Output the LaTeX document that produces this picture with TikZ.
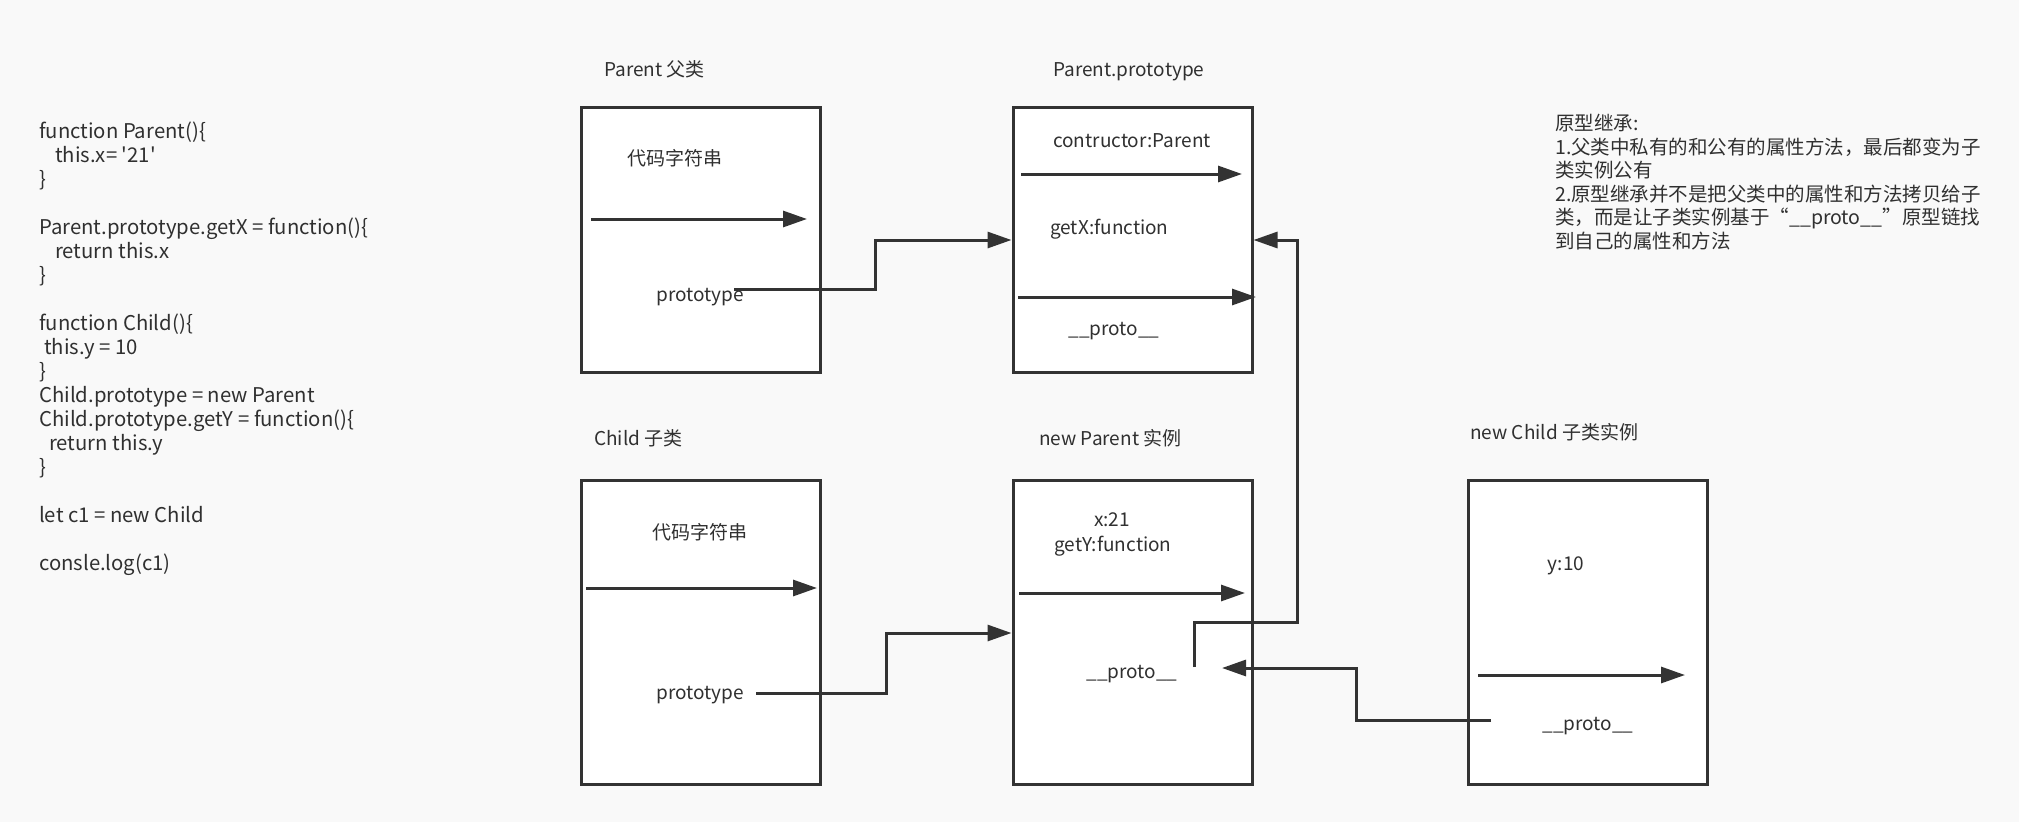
\documentclass[tikz,border=0pt]{standalone}
\usepackage{fontspec}
\setmainfont{Noto Sans CJK SC}[Ligatures=TeXOff]
\usetikzlibrary{arrows.meta}
\definecolor{bg}{HTML}{F9F9F9}
\definecolor{ln}{HTML}{333333}
\definecolor{tx}{HTML}{303030}
\tikzset{
  objbox/.style={draw=ln, line width=3pt, fill=white, inner sep=0pt},
  lbl/.style={text=tx, inner sep=0pt, font=\fontsize{19}{24}\selectfont},
  codetxt/.style={lbl, align=left, font=\fontsize{20.3}{24}\selectfont},
  notetxt/.style={lbl, align=left, font=\fontsize{19.5}{23.5}\selectfont},
  conn/.style={draw=ln, line width=3pt, -{Triangle[length=24pt,width=16pt]}},
}
\begin{document}
\begin{tikzpicture}[x=1pt,y=-1pt]
\fill[bg] (0,0) rectangle (2019,822);
\useasboundingbox (0,0) rectangle (2019,822);

% boxes
\node[objbox, minimum width=239pt, minimum height=265pt] (parent) at (700.5,239.5) {};
\node[objbox, minimum width=239pt, minimum height=265pt] (pproto) at (1132.5,239.5) {};
\node[objbox, minimum width=239pt, minimum height=304pt] (child) at (700.5,632) {};
\node[objbox, minimum width=239pt, minimum height=304pt] (npar) at (1132.5,632) {};
\node[objbox, minimum width=239pt, minimum height=304pt] (nchild) at (1587.5,632) {};

% titles
\node[lbl, anchor=base west] (tparent) at (604,76) {Parent 父类};
\node[lbl, anchor=base west] (tpproto) at (1053,76) {Parent.prototype};
\node[lbl, anchor=base west] (tchild) at (594,445) {Child 子类};
\node[lbl, anchor=base west] (tnpar) at (1039,445) {new Parent 实例};
\node[lbl, anchor=base west] (tnchild) at (1470,439) {new Child 子类实例};

% code
\node[codetxt, anchor=north west] (code) at (39,122) {%
function Parent()\{\\
\hspace*{16pt}this.x= '21'\\
\}\\
\mbox{}\\
Parent.prototype.getX = function()\{\\
\hspace*{16pt}return this.x\\
\}\\
\mbox{}\\
function Child()\{\\
\hspace*{5pt}this.y = 10\\
\}\\
Child.prototype = new Parent\\
Child.prototype.getY = function()\{\\
\hspace*{10pt}return this.y\\
\}\\
\mbox{}\\
let c1 = new Child\\
\mbox{}\\
consle.log(c1)};

% notes
\node[notetxt, anchor=north west] (notes) at (1555,114) {%
原型继承:\\
1.父类中私有的和公有的属性方法，最后都变为子\\
类实例公有\\
2.原型继承并不是把父类中的属性和方法拷贝给子\\
类，而是让子类实例基于“\_\_proto\_\_”原型链找\\
到自己的属性和方法};

% inner texts
\node[lbl, anchor=base] (pcode) at (675,165) {代码字符串};
\node[lbl, anchor=base] (pprop) at (700,301) {prototype};
\node[lbl, anchor=base] (ctor) at (1132,147) {contructor:Parent};
\node[lbl, anchor=base west] (getx) at (1050,234) {getX:function};
\node[lbl, anchor=base] (ppp) at (1114,335) {\_\_proto\_\_};
\node[lbl, anchor=base] (ccode) at (700,539) {代码字符串};
\node[lbl, anchor=base] (cprop) at (700,699) {prototype};
\node[lbl, anchor=base] (x21) at (1112,526) {x:21};
\node[lbl, anchor=base] (gety) at (1113,551) {getY:function};
\node[lbl, anchor=base] (npp) at (1132,678) {\_\_proto\_\_};
\node[lbl, anchor=base] (y10) at (1566,570) {y:10};
\node[lbl, anchor=base] (ncp) at (1588,730) {\_\_proto\_\_};

% inner arrows
\coordinate (a1s) at (591,219);  \coordinate (a1e) at (807,219);
\coordinate (a2s) at (1021,174); \coordinate (a2e) at (1242,174);
\coordinate (a3s) at (1018,297); \coordinate (a3e) at (1256,297);
\coordinate (a4s) at (586,588);  \coordinate (a4e) at (817,588);
\coordinate (a5s) at (1019,593); \coordinate (a5e) at (1245,593);
\coordinate (a6s) at (1478,675); \coordinate (a6e) at (1685,675);
\draw[conn] (a1s) -- (a1e);
\draw[conn] (a2s) -- (a2e);
\draw[conn] (a3s) -- (a3e);
\draw[conn] (a4s) -- (a4e);
\draw[conn] (a5s) -- (a5e);
\draw[conn] (a6s) -- (a6e);

% connectors
\coordinate (c1s) at (734,289);
\draw[conn] (c1s) -- (875,289) -- (875,240) -- (pproto.west |- 0,240);
\coordinate (c2s) at (756,693);
\draw[conn] (c2s) -- (886,693) -- (886,633) -- (npar.west |- 0,633);
\coordinate (c3s) at (1194,667);
\draw[conn] (c3s) -- (1194,622) -- (1297,622) -- (1297,240) -- (pproto.east |- 0,240);
\coordinate (c4s) at (1491,720);
\coordinate (c4e) at (1222,668);
\draw[conn] (c4s) -- (1356,720) -- (1356,668) -- (c4e);
\end{tikzpicture}
\end{document}
